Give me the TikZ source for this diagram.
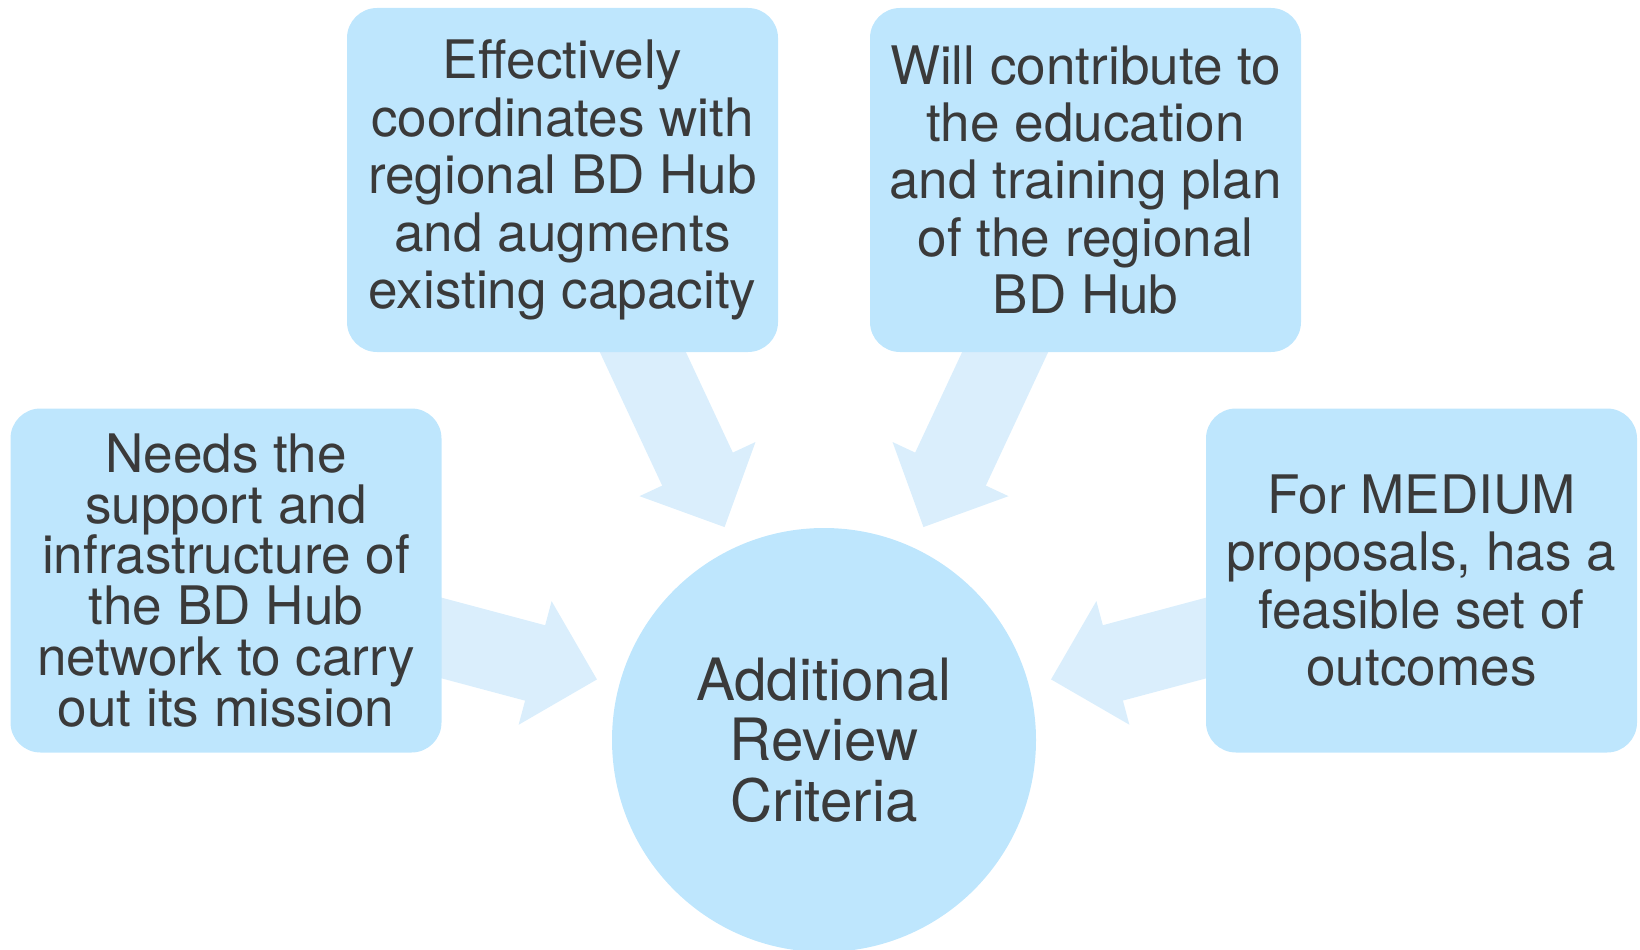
\documentclass[tikz,border=0pt]{standalone}
\usepackage{fontspec}
\setmainfont{TeX Gyre Heros}
\usetikzlibrary{calc, backgrounds}
\definecolor{boxblue}{RGB}{190, 230, 253}
\definecolor{arrowblue}{RGB}{218, 238, 252}
\definecolor{textgray}{RGB}{58, 58, 58}

\tikzset{
  criterion/.style={fill=boxblue, rounded corners=0.6cm, minimum width=8.62cm, minimum height=6.88cm,
    align=center, text=textgray, font=\fontsize{30.2}{32.7}\selectfont},
  hub/.style={circle, fill=boxblue, minimum size=8.48cm, inner sep=0pt, align=center, text=textgray,
    font=\fontsize{33.2}{34.5}\selectfont},
}

\begin{document}
\begin{tikzpicture}
  \useasboundingbox (0,0) rectangle (32.8,-19);

  % centre circle
  \node[hub] (crit) at (16.48,-14.8) {Additional\\Review\\Criteria};

  % the four criteria
  \node[criterion, font=\fontsize{30.2}{29}\selectfont] (needs) at (4.52,-11.61)
    {Needs the\\support and\\infrastructure of\\the BD Hub\\network to carry\\out its mission};
  \node[criterion] (coord) at (11.25,-3.6)
    {Effectively\\coordinates with\\regional BD Hub\\and augments\\existing capacity};
  \node[criterion] (edu) at (21.71,-3.6)
    {Will contribute to\\the education\\and training plan\\of the regional\\BD Hub};
  \node[criterion] (medium) at (28.43,-11.61)
    {For MEDIUM\\proposals, has a\\feasible set of\\outcomes};

  % block arrows, behind the boxes
  \begin{scope}[on background layer]
    \foreach \b in {needs, coord, edu, medium} {
      \coordinate (tip) at ($(crit.center)!4.7cm!(\b.center)$);
      \coordinate (base) at ($(crit.center)!5.98cm!(\b.center)$);
      \draw[arrowblue, line width=1.56cm] (\b.center) -- ($(crit.center)!5.9cm!(\b.center)$);
      \fill[arrowblue] (tip) -- ($(base)!1.28cm!90:(tip)$) -- ($(base)!1.28cm!-90:(tip)$) -- cycle;
    }
  \end{scope}
\end{tikzpicture}
\end{document}
